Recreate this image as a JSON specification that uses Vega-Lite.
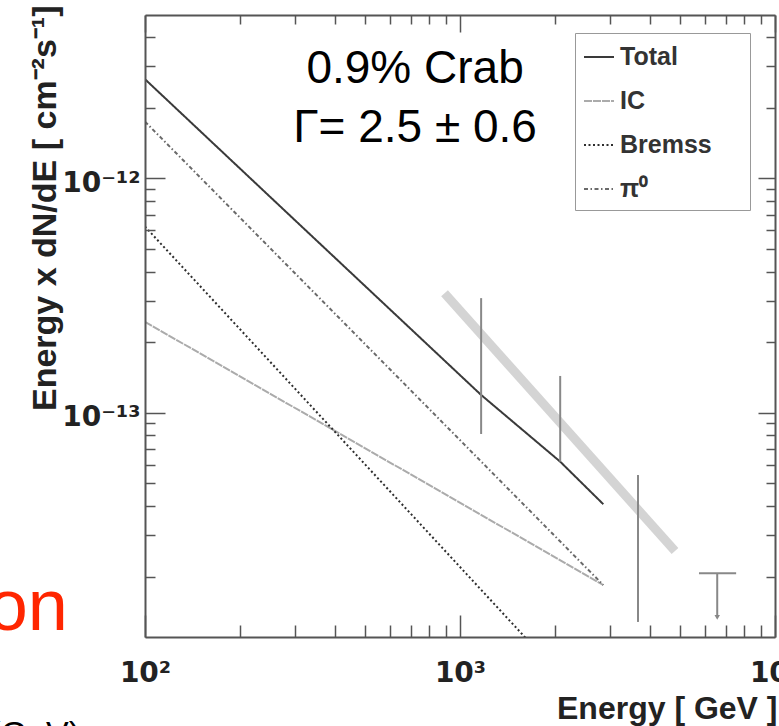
{
  "$schema": "https://vega.github.io/schema/vega-lite/v6.json",
  "width": 630,
  "height": 622,
  "autosize": "none",
  "padding": {"left": 145, "top": 15, "right": 4, "bottom": 89},
  "background": "white",
  "config": {"view": {"stroke": null}, "font": "Liberation Sans"},
  "resolve": {"axis": {"x": "independent", "y": "independent"}},
  "layer": [
    {
      "data": {"values": [{"E": 893, "F": 3.23e-13}, {"E": 4814, "F": 2.57e-14}]},
      "mark": {"type": "line", "color": "#d4d4d4", "strokeWidth": 9, "strokeCap": "butt", "clip": true},
      "encoding": {
        "x": {"field": "E", "type": "quantitative", "scale": {"type": "log", "domain": [100, 10000], "nice": false},
          "axis": {"orient": "bottom", "values": [200,300,400,500,600,700,800,900,2000,3000,4000,5000,6000,7000,8000,9000], "tickSize": -12, "tickColor": "#555", "tickWidth": 1.5, "labels": false, "domain": false, "grid": false, "title": null, "zindex": 1}},
        "y": {"field": "F", "type": "quantitative", "scale": {"type": "log", "domain": [1.104e-14, 4.97e-12], "nice": false},
          "axis": {"orient": "left", "values": [2e-14,3e-14,4e-14,5e-14,6e-14,7e-14,8e-14,9e-14,2e-13,3e-13,4e-13,5e-13,6e-13,7e-13,8e-13,9e-13,2e-12,3e-12,4e-12], "tickSize": -10, "tickColor": "#555", "tickWidth": 1.5, "labels": false, "domain": false, "grid": false, "title": null, "zindex": 1}}
      }
    },
    {
      "data": {"values": [
        {"s": "Total", "E": 100, "F": 2.645e-12},
        {"s": "Total", "E": 300, "F": 6.6e-13},
        {"s": "Total", "E": 1167, "F": 1.19e-13},
        {"s": "Total", "E": 2080, "F": 6.18e-14},
        {"s": "Total", "E": 2850, "F": 4.07e-14},
        {"s": "IC", "E": 100, "F": 2.44e-13},
        {"s": "IC", "E": 2850, "F": 1.84e-14},
        {"s": "Bremss", "E": 100, "F": 6.22e-13},
        {"s": "Bremss", "E": 2850, "F": 4.8e-15},
        {"s": "π⁰", "E": 100, "F": 1.744e-12},
        {"s": "π⁰", "E": 2850, "F": 1.84e-14}
      ]},
      "mark": {"type": "line", "strokeWidth": 2, "clip": true},
      "encoding": {
        "x": {"field": "E", "type": "quantitative", "scale": {"type": "log", "domain": [100, 10000], "nice": false},
          "axis": {"orient": "bottom", "values": [100, 1000, 10000], "tickSize": -22, "tickColor": "#555", "tickWidth": 1.5, "domain": true, "domainColor": "#555", "domainWidth": 2, "grid": false, "zindex": 1,
            "labelExpr": "datum.value < 500 ? '10²' : datum.value < 5000 ? '10³' : '10⁴'", "labelFont": "DejaVu Sans", "labelFontSize": 28, "labelFontWeight": "bold", "labelColor": "#222", "labelPadding": 44, "labelFlush": false, "labelOverlap": false, "labelBaseline": "top",
            "title": "Energy [ GeV ]", "titleFont": "Liberation Sans", "titleFontSize": 32, "titleFontWeight": "bold", "titleColor": "#222", "titleX": 632, "titleY": 81, "titleAlign": "right", "titleAnchor": "end", "titleBaseline": "alphabetic"}},
        "y": {"field": "F", "type": "quantitative", "scale": {"type": "log", "domain": [1.104e-14, 4.97e-12], "nice": false},
          "axis": {"orient": "left", "values": [1e-13, 1e-12], "tickSize": -20, "tickColor": "#555", "tickWidth": 1.5, "domain": true, "domainColor": "#555", "domainWidth": 2, "grid": false, "zindex": 1,
            "labelExpr": "datum.value > 5e-13 ? '10⁻¹²' : '10⁻¹³'", "labelFont": "DejaVu Sans", "labelFontSize": 28, "labelFontWeight": "bold", "labelColor": "#222", "labelPadding": 25, "labelOffset": 5, "labelFlush": false, "labelOverlap": false,
            "title": "Energy x dN/dE  [ cm⁻²s⁻¹]", "titleFont": "Liberation Sans", "titleFontSize": 34, "titleFontWeight": "bold", "titleColor": "#222", "titleX": -100, "titleY": -10, "titleAlign": "right", "titleAngle": 270, "titleBaseline": "middle"}},
        "color": {"field": "s", "type": "nominal",
          "scale": {"domain": ["Total", "IC", "Bremss", "π⁰"], "range": ["#3a3a3a", "#ababab", "#2e2e2e", "#6a6a6a"]},
          "legend": {"orient": "none", "legendX": 430, "legendY": 18, "title": "MM", "titleOrient": "right", "titleColor": "white", "titleFontSize": 18, "titlePadding": 0, "symbolType": "stroke", "symbolSize": 900, "symbolStrokeWidth": 2, "labelFont": "Liberation Sans", "labelFontSize": 25, "labelFontWeight": "bold", "labelColor": "#333", "labelOffset": 5, "rowPadding": 15, "padding": 8, "strokeColor": "#999", "fillColor": "white"}},
        "strokeDash": {"field": "s", "type": "nominal",
          "scale": {"domain": ["Total", "IC", "Bremss", "π⁰"], "range": [[1, 0], [8, 1], [2, 2.5], [4, 2.5, 1.5, 2.5]]}}
      }
    },
    {
      "data": {"values": [
        {"E": 1167, "lo": 8.11e-14, "hi": 3.08e-13},
        {"E": 2080, "lo": 6.18e-14, "hi": 1.434e-13},
        {"E": 3673, "lo": 1.28e-14, "hi": 5.42e-14},
        {"E": 6555, "lo": 1.35e-14, "hi": 2.065e-14}
      ]},
      "mark": {"type": "rule", "color": "#888", "strokeWidth": 2},
      "encoding": {
        "x": {"field": "E", "type": "quantitative", "scale": {"type": "log", "domain": [100, 10000], "nice": false},
          "axis": {"orient": "top", "values": [100, 1000, 10000], "tickSize": -17, "tickColor": "#555", "tickWidth": 1.5, "labels": false, "domain": true, "domainColor": "#555", "domainWidth": 2, "grid": false, "title": null, "zindex": 1}},
        "y": {"field": "lo", "type": "quantitative", "scale": {"type": "log", "domain": [1.104e-14, 4.97e-12], "nice": false},
          "axis": {"orient": "right", "values": [1e-13, 1e-12], "tickSize": -17, "tickColor": "#555", "tickWidth": 1.5, "labels": false, "domain": true, "domainColor": "#555", "domainWidth": 2, "grid": false, "title": null, "zindex": 1}},
        "y2": {"field": "hi"}
      }
    },
    {
      "data": {"values": [{"E1": 5737, "E2": 7527, "F": 2.065e-14}]},
      "mark": {"type": "rule", "color": "#888", "strokeWidth": 2},
      "encoding": {
        "x": {"field": "E1", "type": "quantitative", "scale": {"type": "log", "domain": [100, 10000], "nice": false},
          "axis": {"orient": "top", "values": [200,300,400,500,600,700,800,900,2000,3000,4000,5000,6000,7000,8000,9000], "tickSize": -9, "tickColor": "#555", "tickWidth": 1.5, "labels": false, "domain": false, "grid": false, "title": null, "zindex": 1}},
        "x2": {"field": "E2"},
        "y": {"field": "F", "type": "quantitative", "scale": {"type": "log", "domain": [1.104e-14, 4.97e-12], "nice": false},
          "axis": {"orient": "right", "values": [2e-14,3e-14,4e-14,5e-14,6e-14,7e-14,8e-14,9e-14,2e-13,3e-13,4e-13,5e-13,6e-13,7e-13,8e-13,9e-13,2e-12,3e-12,4e-12], "tickSize": -9, "tickColor": "#555", "tickWidth": 1.5, "labels": false, "domain": false, "grid": false, "title": null, "zindex": 1}}
      }
    },
    {
      "data": {"values": [{"E": 6555, "F": 1.34e-14}]},
      "mark": {"type": "point", "shape": "triangle-down", "filled": true, "color": "#888", "size": 30, "opacity": 1},
      "encoding": {
        "x": {"field": "E", "type": "quantitative", "scale": {"type": "log", "domain": [100, 10000], "nice": false}, "axis": null},
        "y": {"field": "F", "type": "quantitative", "scale": {"type": "log", "domain": [1.104e-14, 4.97e-12], "nice": false}, "axis": null}
      }
    },
    {
      "data": {"values": [{"E": 720, "F": 2.55e-12, "t": "0.9% Crab"}, {"E": 720, "F": 1.43e-12, "t": "Γ= 2.5 ± 0.6"}]},
      "mark": {"type": "text", "font": "Liberation Sans", "fontSize": 46, "color": "black", "align": "center", "baseline": "alphabetic"},
      "encoding": {
        "x": {"field": "E", "type": "quantitative", "scale": {"type": "log", "domain": [100, 10000], "nice": false}, "axis": null},
        "y": {"field": "F", "type": "quantitative", "scale": {"type": "log", "domain": [1.104e-14, 4.97e-12], "nice": false}, "axis": null},
        "text": {"field": "t"}
      }
    },
    {
      "data": {"values": [{"E": 56.9, "F": 1.183e-14, "t": "on"}]},
      "mark": {"type": "text", "font": "Liberation Sans", "fontSize": 72, "color": "#FF2600", "align": "right", "baseline": "alphabetic"},
      "encoding": {
        "x": {"field": "E", "type": "quantitative", "scale": {"type": "log", "domain": [100, 10000], "nice": false}, "axis": null},
        "y": {"field": "F", "type": "quantitative", "scale": {"type": "log", "domain": [1.104e-14, 4.97e-12], "nice": false}, "axis": null},
        "text": {"field": "t"}
      }
    },
    {
      "data": {"values": [{"E": 62.2, "F": 3.82e-15, "t": "(GeV)"}]},
      "mark": {"type": "text", "font": "Liberation Sans", "fontSize": 34, "color": "black", "align": "right", "baseline": "alphabetic"},
      "encoding": {
        "x": {"field": "E", "type": "quantitative", "scale": {"type": "log", "domain": [100, 10000], "nice": false}, "axis": null},
        "y": {"field": "F", "type": "quantitative", "scale": {"type": "log", "domain": [1.104e-14, 4.97e-12], "nice": false}, "axis": null},
        "text": {"field": "t"}
      }
    }
  ]
}
